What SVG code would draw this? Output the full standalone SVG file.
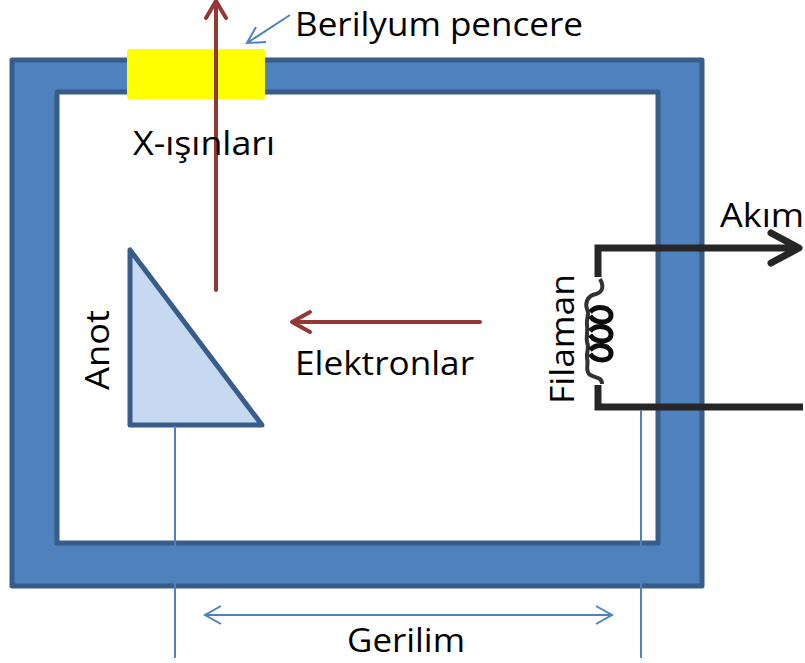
<svg xmlns="http://www.w3.org/2000/svg" width="805" height="663" viewBox="0 0 805 663">
<style>
text{font-family:"Open Sans","Noto Sans","Liberation Sans",sans-serif;font-size:33px;fill:#000}
.thin{fill:none;stroke:#4f81bd;stroke-width:2}
.red{fill:none;stroke:#953735;stroke-width:4;stroke-linecap:round;stroke-linejoin:round}
.wire{fill:none;stroke:#262626;stroke-width:7}
</style>
<defs><filter id="soft" x="-30%" y="-10%" width="160%" height="120%"><feGaussianBlur stdDeviation="0.7"/></filter></defs>
<rect width="805" height="663" fill="#fff"/>
<g id="chamber"><path d="M12 60H702V586H12ZM57 92V543H658V92Z" fill="#4f81bd" fill-rule="evenodd" stroke="#385d8a" stroke-width="5" stroke-linejoin="round"/></g>
<g id="window"><rect x="127" y="49" width="138" height="50" rx="2" fill="#ff0"/></g>
<g id="anode"><path d="M130 250V425H262Z" fill="#c6d9f1" stroke="#385d8a" stroke-width="5" stroke-linejoin="round"/></g>
<g id="filament">
<path class="wire" d="M598 277V248H700M598 385V407H803"/>
<path class="wire" d="M700 248H798M771 233L799 248L771 263" stroke-linecap="round" stroke-linejoin="round"/>
<g filter="url(#soft)">
<path d="M600 279C604 286 603 292 596 294C587 296 585 303 587 309C590 314 586 318 587 324C588 332 586 336 587 342C590 348 586 352 587 358C589 364 585 369 589 374C593 378 602 376 602 384" fill="none" stroke="#333" stroke-width="4"/>
<path d="M590 312C598 304 612 308 611 316C610 324 596 324 590 316M590 331C598 323 612 327 611 335C610 343 596 343 590 335M590 350C598 342 612 346 611 354C610 362 596 362 590 354" fill="none" stroke="#111" stroke-width="5"/>
</g>
</g>
<g id="connectors">
<path class="red" d="M216 290V2M206 18L216 1L226 18"/>
<path class="red" d="M480 322H292M310 312L292 322L310 332"/>
<path class="thin" d="M290 15L247 43M256 27L247 43L266 42"/>
<path class="thin" d="M175 426V658M641 410V658M205 615H612M221 606L205 615L221 624M596 606L612 615L596 624"/>
</g>
<g id="labels">
<text x="295" y="36" textLength="288" lengthAdjust="spacingAndGlyphs">Berilyum pencere</text>
<text x="133" y="155" textLength="142" lengthAdjust="spacingAndGlyphs">X-ışınları</text>
<text x="720" y="227" textLength="84" lengthAdjust="spacingAndGlyphs">Akım</text>
<text x="295" y="375" textLength="179" lengthAdjust="spacingAndGlyphs">Elektronlar</text>
<text x="347" y="652" textLength="118" lengthAdjust="spacingAndGlyphs">Gerilim</text>
<text transform="translate(109 390) rotate(-90)" textLength="80" lengthAdjust="spacingAndGlyphs">Anot</text>
<text transform="translate(574 404) rotate(-90)" textLength="130" lengthAdjust="spacingAndGlyphs">Filaman</text>
</g>
</svg>
